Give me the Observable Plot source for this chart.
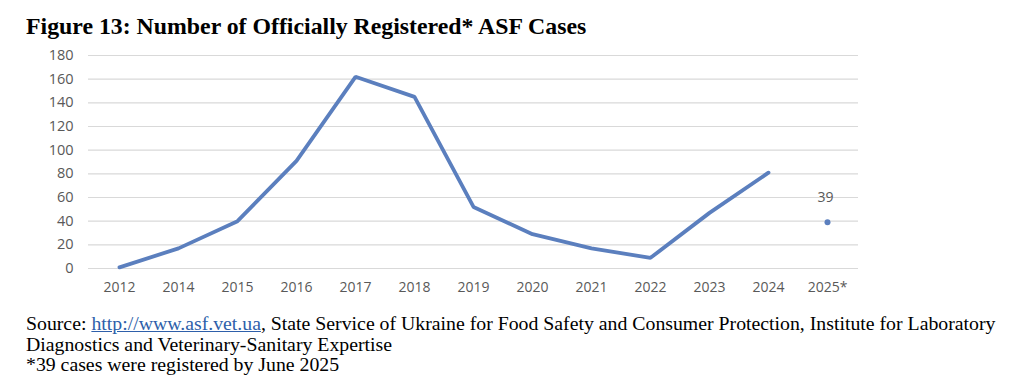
<!DOCTYPE html>
<html><head><meta charset="utf-8">
<script src="https://cdn.jsdelivr.net/npm/d3@7"></script>
<script src="https://cdn.jsdelivr.net/npm/@observablehq/plot@0.6"></script>
<style>
body{margin:0;background:#fff;width:1024px;height:390px;overflow:hidden;position:relative}
#title{position:absolute;left:26px;top:13px;font-family:"Liberation Serif";font-weight:bold;font-size:23.8px;line-height:1.1;color:#000;white-space:nowrap}
#chart{position:absolute;left:0;top:43px}
#caption{position:absolute;left:26px;top:313px;font-family:"Liberation Serif";font-size:19.8px;line-height:20.5px;color:#000;white-space:nowrap}
#caption a{color:#2e5faa}
</style></head>
<body>
<div id="title">Figure 13: Number of Officially Registered* ASF Cases</div>
<div id="chart"></div>
<div id="caption">Source: <a href="#">http://www.asf.vet.ua</a>, State Service of Ukraine for Food Safety and Consumer Protection, Institute for Laboratory<br>Diagnostics and Veterinary-Sanitary Expertise<br>*39 cases were registered by June 2025</div>
<script>
const years = ["2012","2014","2015","2016","2017","2018","2019","2020","2021","2022","2023","2024","2025*"];
const lineYears = ["2012","2014","2015","2016","2017","2018","2019","2020","2021","2022","2023","2024"];
const cases = [1, 17, 40, 91, 162, 145, 52, 29, 17, 9, 47, 81];
const partialYear = ["2025*"];
const partialCases = [39];
const yTicks = [0,20,40,60,80,100,120,140,160,180];

const lineData = lineYears.map((y,i)=>({year:y, value:cases[i]}));
const dotData = partialYear.map((y,i)=>({year:y, value:partialCases[i]}));

const chart = Plot.plot({
  width: 1024,
  height: 260,
  marginLeft: 88,
  marginRight: 166,
  marginTop: 12,
  marginBottom: 35,
  style: {fontFamily: "'Open Sans', sans-serif", fontSize: "14px", color: "#595959", background: "#fff"},
  x: {type: "point", domain: years, padding: 0.5, label: null},
  y: {domain: [0,180], ticks: yTicks, label: null},
  marks: [
    Plot.ruleY(yTicks, {stroke: "#d9d9d9", strokeWidth: 1.2}),
    Plot.axisY({ticks: yTicks, tickSize: 0, tickPadding: 15, label: null, fontSize: 14.5}),
    Plot.axisX({tickSize: 0, tickPadding: 14, label: null, fontSize: 14}),
    Plot.line(lineData, {x: "year", y: "value", stroke: "#5b7fbe", strokeWidth: 3.8, strokeLinejoin: "miter"}),
    Plot.dot(dotData, {x: "year", y: "value", r: 3, fill: "#5b7fbe", stroke: null}),
    Plot.text(dotData, {x: "year", y: "value", text: d => String(d.value), dy: -25, dx: -2, fill: "#595959", fontSize: 14})
  ]
});
document.getElementById("chart").appendChild(chart);
</script>
</body></html>
